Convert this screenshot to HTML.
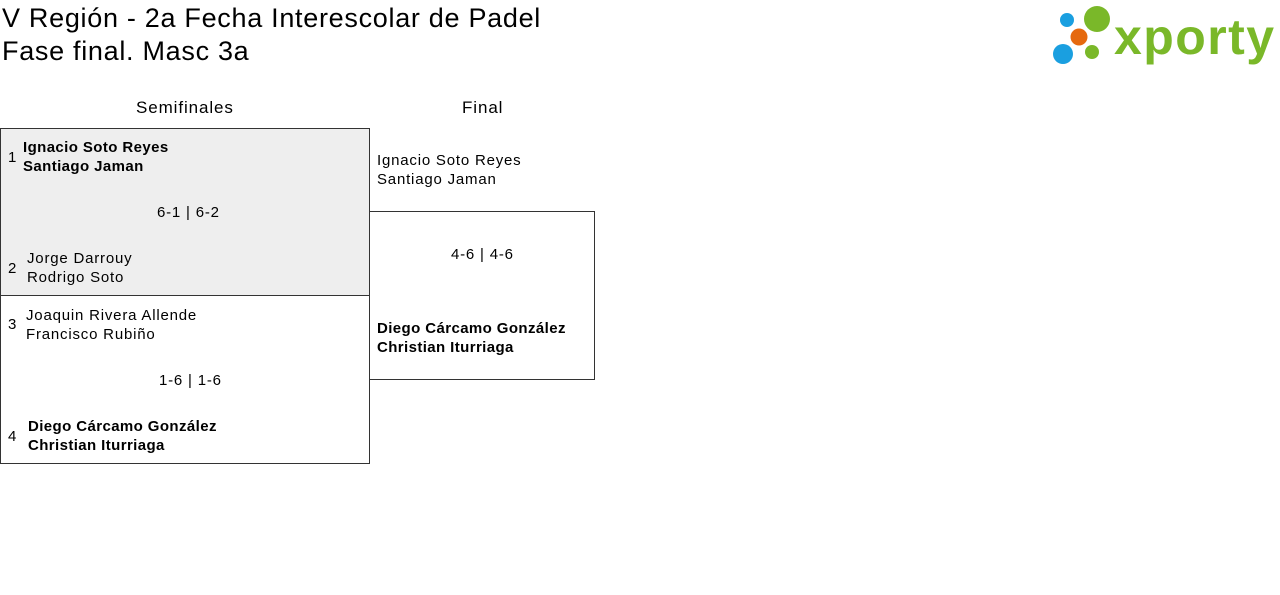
<!DOCTYPE html>
<html><head><meta charset="utf-8"><style>
body{margin:0;width:1280px;height:595px;background:#fff;font-family:"Liberation Sans",sans-serif;color:#000;position:relative;overflow:hidden}
.a{position:absolute;white-space:nowrap}
.t{font-size:27px;line-height:32px;letter-spacing:0.7px}
.s{font-size:15px;line-height:19px;letter-spacing:0.8px}
.b{font-weight:bold;letter-spacing:0.4px}
.box{position:absolute;border:1px solid #333;box-sizing:border-box}
</style></head><body>
<div class="a t" style="left:2px;top:2px">V Región - 2a Fecha Interescolar de Padel</div>
<div class="a t" style="left:2px;top:35px">Fase final. Masc 3a</div>
<svg class="a" style="left:1050px;top:4px" width="226" height="64">
<circle cx="17" cy="16" r="7" fill="#1a9fe0"/>
<circle cx="47" cy="15" r="13" fill="#7ab829"/>
<circle cx="29" cy="33" r="8.5" fill="#e5690f"/>
<circle cx="13" cy="50" r="10" fill="#1a9fe0"/>
<circle cx="42" cy="48" r="7" fill="#7ab829"/>
<text x="64" y="50" font-family="Liberation Sans,sans-serif" font-weight="bold" font-size="50" fill="#7ab829" textLength="160">xporty</text>
</svg>
<div class="a s" style="left:136px;top:98px;font-size:17px;letter-spacing:0.9px">Semifinales</div>
<div class="a s" style="left:462px;top:98px;font-size:17px;letter-spacing:0.9px">Final</div>
<div class="box" style="left:0;top:128px;width:370px;height:168px;background:#eee"></div>
<div class="box" style="left:0;top:295px;width:370px;height:169px"></div>
<div class="box" style="left:369px;top:211px;width:226px;height:169px"></div>
<div class="a s" style="left:8px;top:148px">1</div>
<div class="a s b" style="left:23px;top:138px">Ignacio Soto Reyes<br>Santiago Jaman</div>
<div class="a s" style="left:157px;top:203px">6-1 | 6-2</div>
<div class="a s" style="left:8px;top:259px">2</div>
<div class="a s" style="left:27px;top:249px">Jorge Darrouy<br>Rodrigo Soto</div>
<div class="a s" style="left:8px;top:315px">3</div>
<div class="a s" style="left:26px;top:306px">Joaquin Rivera Allende<br>Francisco Rubiño</div>
<div class="a s" style="left:159px;top:371px">1-6 | 1-6</div>
<div class="a s" style="left:8px;top:427px">4</div>
<div class="a s b" style="left:28px;top:417px">Diego Cárcamo González<br>Christian Iturriaga</div>
<div class="a s" style="left:377px;top:151px">Ignacio Soto Reyes<br>Santiago Jaman</div>
<div class="a s" style="left:451px;top:245px">4-6 | 4-6</div>
<div class="a s b" style="left:377px;top:319px">Diego Cárcamo González<br>Christian Iturriaga</div>
</body></html>
